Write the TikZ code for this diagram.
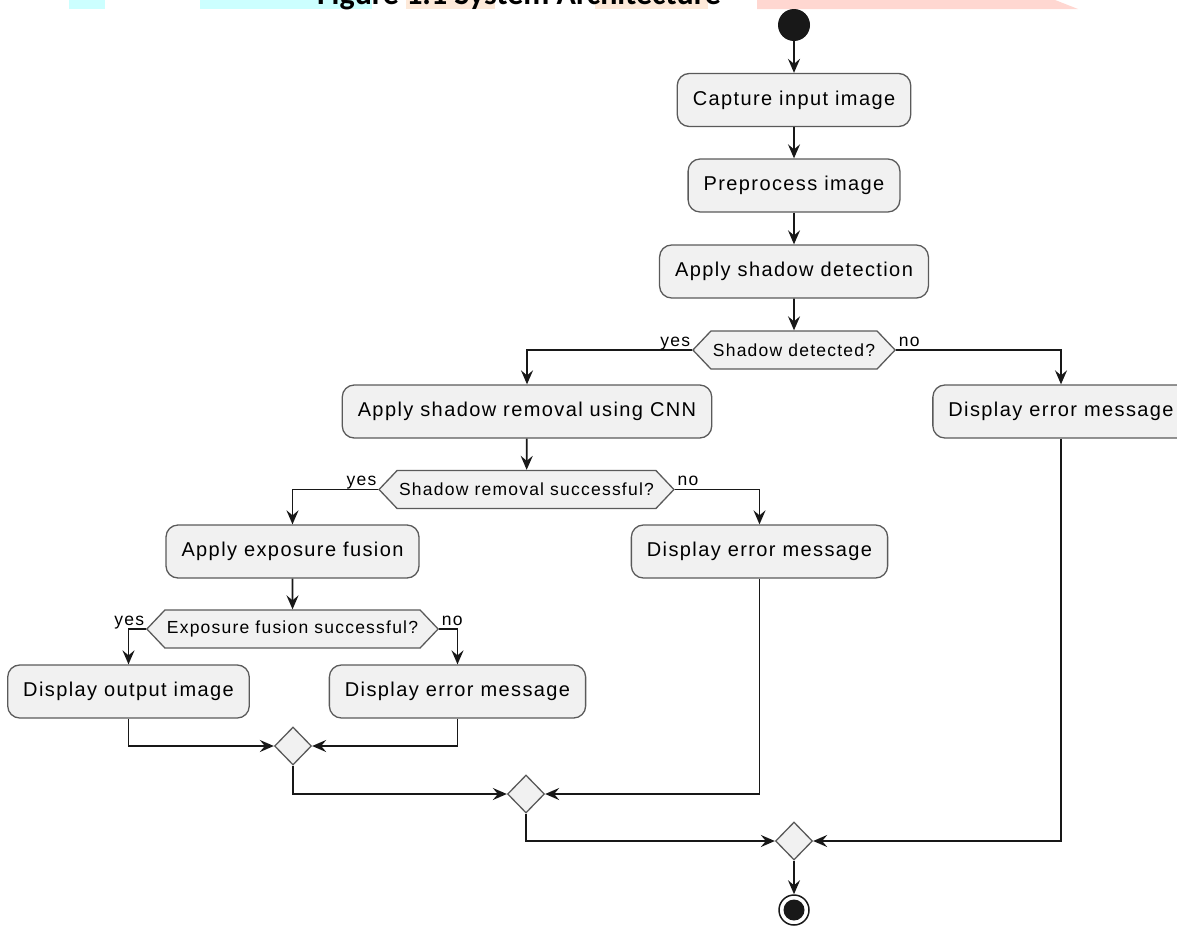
\documentclass[tikz,border=0pt]{standalone}
\usepackage{fontspec}
\setmainfont{Liberation Sans}
\newfontfamily\actfont[LetterSpace=7]{Liberation Sans}
\newfontfamily\titlefont{Carlito}
\usetikzlibrary{arrows.meta,shapes.geometric,shapes.symbols}
\definecolor{boxfill}{HTML}{F1F1F1}
\definecolor{linecol}{HTML}{181818}
\definecolor{edgecol}{HTML}{5A5A5A}
\definecolor{hlcyan}{HTML}{CCFFFF}
\definecolor{hlpeach}{HTML}{FDE9D9}
\definecolor{hlpink}{HTML}{FFD7D1}

\begin{document}
\begin{tikzpicture}[x=1pt, y=-1pt,
    act/.style={draw=edgecol, fill=boxfill, line width=1.3pt, rounded corners=12pt,
        minimum height=53pt, inner xsep=15.5pt, font=\actfont\fontsize{20}{23}\selectfont},
    dec/.style={signal, signal to=west and east, signal pointer angle=93,
        draw=edgecol, fill=boxfill, line width=1.3pt, minimum height=38pt, inner xsep=2pt,
        inner ysep=0pt, font=\actfont\fontsize{17.5}{20}\selectfont},
    merge/.style={diamond, draw=edgecol, fill=boxfill, line width=1.3pt, inner sep=0pt,
        minimum width=37pt, minimum height=38pt},
    lbl/.style={inner sep=0pt, font=\actfont\fontsize{17.5}{20}\selectfont},
    arr/.style={draw=linecol, line width=1.8pt, -{Stealth[length=14pt, width=12pt, inset=5pt]}}]
    \useasboundingbox (0,0) rectangle (1177,926);

    %titolo tagliato in alto
    \fill[hlcyan] (69,-2) rectangle (105,9);
    \fill[hlcyan] (200,-2) rectangle (372,9);
    \fill[hlpeach] (406,-2) rectangle (495,9);
    \fill[hlpeach] (595,-2) rectangle (708,9);
    \fill[hlpink] (757,-2) -- (1050,-2) -- (1078,9) -- (757,9) -- cycle;
    \node[anchor=base, inner sep=0pt, font=\titlefont\bfseries\fontsize{32}{36}\selectfont] (title) at (519,5) {Figure 1.1 System Architecture};

    %inizio
    \node[circle, fill=linecol, minimum size=32pt, inner sep=0pt] (start) at (794,25) {};

    %azioni
    \node[act] (b1) at (794,100) {Capture input image};
    \node[act] (b2) at (794,185.5) {Preprocess image};
    \node[act] (b3) at (794,271.5) {Apply shadow detection};
    \node[dec] (d1) at (794,350) {Shadow detected?};
    \node[act] (b4) at (527,411.5) {Apply shadow removal using CNN};
    \node[act] (r1) at (1061,411.5) {Display error message};
    \node[dec] (d2) at (526.5,489.5) {Shadow removal successful?};
    \node[act] (b5) at (292.5,551.5) {Apply exposure fusion};
    \node[act] (b6) at (759.5,551.5) {Display error message};
    \node[dec] (d3) at (292.5,629) {Exposure fusion successful?};
    \node[act] (b7) at (128.5,691.5) {Display output image};
    \node[act] (b8) at (457.5,691.5) {Display error message};

    %rombi di unione
    \node[merge] (m1) at (293,746) {};
    \node[merge] (m2) at (526,794) {};
    \node[merge] (m3) at (794,841) {};

    %fine
    \node[circle, draw=linecol, line width=1.5pt, minimum size=30pt, inner sep=0pt,
        path picture={\fill[linecol] (path picture bounding box.center) circle (10.5pt);}] (stop) at (794,910) {};

    %frecce
    \draw[arr] (start) -- (b1);
    \draw[arr] (b1) -- (b2);
    \draw[arr] (b2) -- (b3);
    \draw[arr] (b3) -- (d1);
    \draw[arr] (d1.west) node[lbl, anchor=base east, xshift=-1pt, yshift=4pt] {yes} -| (b4);
    \draw[arr] (d1.east) node[lbl, anchor=base west, xshift=2pt, yshift=4pt] {no} -| (r1);
    \draw[arr] (b4) -- (d2);
    \draw[arr] (d2.west) node[lbl, anchor=base east, xshift=-1pt, yshift=4pt] {yes} -| (b5);
    \draw[arr] (d2.east) node[lbl, anchor=base west, xshift=2pt, yshift=4pt] {no} -| (b6);
    \draw[arr] (b5) -- (d3);
    \draw[arr] (d3.west) node[lbl, anchor=base east, xshift=-1pt, yshift=4pt] {yes} -| (b7);
    \draw[arr] (d3.east) node[lbl, anchor=base west, xshift=2pt, yshift=4pt] {no} -| (b8);
    \draw[arr] (b7) |- (m1);
    \draw[arr] (b8) |- (m1);
    \draw[arr] (m1) |- (m2);
    \draw[arr] (b6) |- (m2);
    \draw[arr] (m2) |- (m3);
    \draw[arr] (r1) |- (m3);
    \draw[arr] (m3) -- (stop);
\end{tikzpicture}
\end{document}
